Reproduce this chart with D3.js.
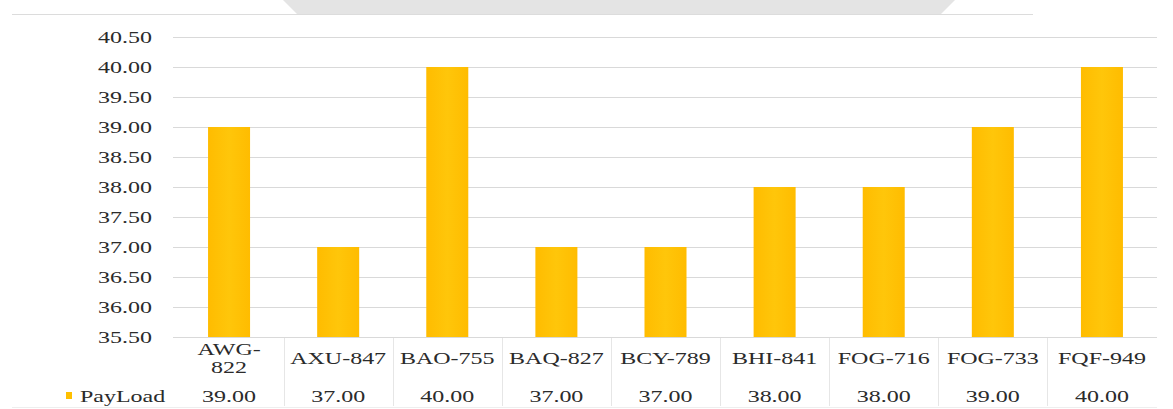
<!DOCTYPE html>
<html>
<head>
<meta charset="utf-8">
<script src="https://cdn.jsdelivr.net/npm/d3@7"></script>
<style>
  html, body { margin: 0; padding: 0; background: #fff; }
  svg { display: block; }
  text { font-family: "Liberation Serif", "Times New Roman", serif; fill: #2b2b2b; }
</style>
</head>
<body>
<svg id="chart" width="1173" height="409"></svg>
<script>
// Chart data
const categories = ["AWG-822", "AXU-847", "BAO-755", "BAQ-827", "BCY-789", "BHI-841", "FOG-716", "FOG-733", "FQF-949"];
const payload = [39.00, 37.00, 40.00, 37.00, 37.00, 38.00, 38.00, 39.00, 40.00];
const seriesName = "PayLoad";
const yTicks = [35.5, 36.0, 36.5, 37.0, 37.5, 38.0, 38.5, 39.0, 39.5, 40.0, 40.5];

const W = 1173, H = 409;
const barColor = "#FFC000";
const gridColor = "#d9d9d9";
const stretch = 1.5;   // wide serif lettering
const fontSize = 16;

const svg = d3.select("#chart");

// faint backdrop shape along the top edge
svg.append("polygon")
  .attr("points", "283,0 955,0 941,14 297,14")
  .attr("fill", "#e4e4e4");
svg.append("line")
  .attr("x1", 12).attr("x2", 1033).attr("y1", 14.5).attr("y2", 14.5)
  .attr("stroke", "#dcdcdc");

const x = d3.scaleBand()
  .domain(categories)
  .range([174.5, 1156.5])
  .paddingInner(0.615)
  .paddingOuter(0.3075);

const y = d3.scaleLinear()
  .domain([35.5, 40.5])
  .range([337, 37]);

// horizontal gridlines
svg.append("g")
  .selectAll("line")
  .data(yTicks)
  .join("line")
  .attr("x1", 173).attr("x2", 1157)
  .attr("y1", d => Math.round(y(d)) + 0.5)
  .attr("y2", d => Math.round(y(d)) + 0.5)
  .attr("stroke", gridColor)
  .attr("stroke-width", 1);

// bars
const grad = svg.append("defs").append("linearGradient")
  .attr("id", "barFill").attr("x1", 0).attr("x2", 1).attr("y1", 0).attr("y2", 0);
grad.append("stop").attr("offset", "0%").attr("stop-color", "#FFBC00");
grad.append("stop").attr("offset", "50%").attr("stop-color", "#FFC60A");
grad.append("stop").attr("offset", "100%").attr("stop-color", "#FFBC00");

svg.append("g")
  .selectAll("rect")
  .data(categories.map((c, i) => ({ c, v: payload[i] })))
  .join("rect")
  .attr("x", d => x(d.c))
  .attr("width", x.bandwidth())
  .attr("y", d => y(d.v))
  .attr("height", d => y(35.5) - y(d.v))
  .attr("fill", "url(#barFill)");

// y axis labels
const yAxis = d3.axisLeft(y)
  .tickValues(yTicks)
  .tickFormat(d3.format(".2f"))
  .tickSize(0)
  .tickPadding(0);

const gy = svg.append("g")
  .attr("transform", "translate(152,0)")
  .call(yAxis);
gy.select(".domain").remove();
gy.selectAll(".tick text")
  .attr("x", 0)
  .attr("dy", "0.32em")
  .attr("transform", `scale(${stretch},1)`)
  .style("font-family", '"Liberation Serif", "Times New Roman", serif')
  .style("font-size", fontSize + "px")
  .attr("fill", "#2b2b2b");

// data table: column separators
const bounds = categories.map(c => x(c) - x.step() * x.paddingInner() / 2);
bounds.push(1156.5);
svg.append("g")
  .selectAll("line")
  .data(bounds.slice(1, -1))
  .join("line")
  .attr("x1", d => Math.round(d) + 0.5).attr("x2", d => Math.round(d) + 0.5)
  .attr("y1", 338).attr("y2", 406)
  .attr("stroke", "#e6e6e6");
svg.append("line")
  .attr("x1", 12).attr("x2", 1157).attr("y1", 407.5).attr("y2", 407.5)
  .attr("stroke", "#eeeeee");

function stretchedText(g, tx, ty, str) {
  return g.append("text")
    .attr("transform", `translate(${tx},${ty}) scale(${stretch},1)`)
    .attr("text-anchor", "middle")
    .attr("dy", "0.35em")
    .style("font-size", fontSize + "px")
    .text(str);
}

// category row
const catRow = svg.append("g");
categories.forEach(c => {
  const cx = x(c) + x.bandwidth() / 2;
  if (c === "AWG-822") {
    stretchedText(catRow, cx, 349, "AWG-");
    stretchedText(catRow, cx, 367, "822");
  } else {
    stretchedText(catRow, cx, 358, c);
  }
});

// value row
const valRow = svg.append("g");
payload.forEach((v, i) => {
  const cx = x(categories[i]) + x.bandwidth() / 2;
  stretchedText(valRow, cx, 396, d3.format(".2f")(v));
});

// legend key + series name
svg.append("rect")
  .attr("x", 66).attr("y", 392).attr("width", 6).attr("height", 7)
  .attr("fill", barColor);
svg.append("text")
  .attr("transform", `translate(80,396) scale(${stretch},1)`)
  .attr("dy", "0.35em")
  .style("font-size", fontSize + "px")
  .text(seriesName);
</script>
</body>
</html>
